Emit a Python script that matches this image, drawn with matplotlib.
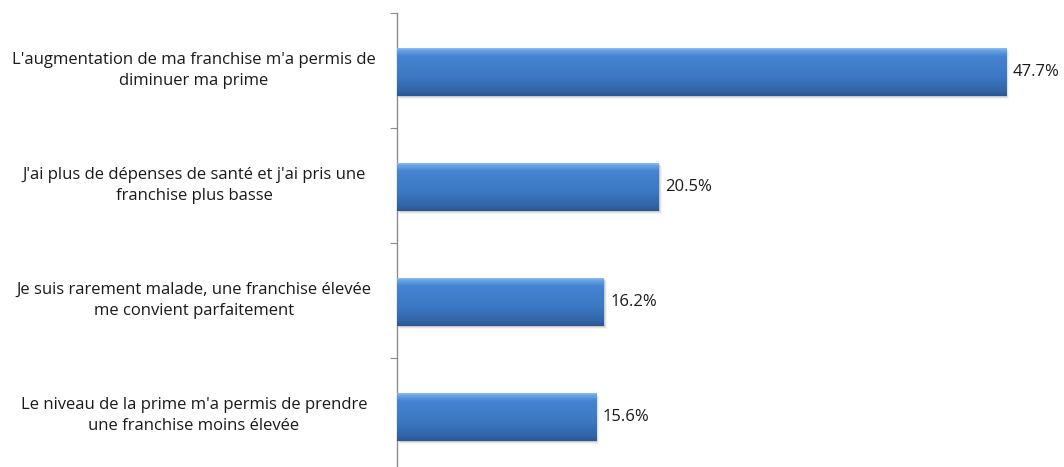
import matplotlib
matplotlib.use("Agg")
import matplotlib.pyplot as plt
import numpy as np
from matplotlib.transforms import blended_transform_factory, offset_copy
from matplotlib.colors import LinearSegmentedColormap

categories = [
    "L'augmentation de ma franchise m'a permis de\ndiminuer ma prime",
    "J'ai plus de dépenses de santé et j'ai pris une\nfranchise plus basse",
    "Je suis rarement malade, une franchise élevée\nme convient parfaitement",
    "Le niveau de la prime m'a permis de prendre\nune franchise moins élevée",
]
values = [47.7, 20.5, 16.2, 15.6]
value_labels = ["47.7%", "20.5%", "16.2%", "15.6%"]

plt.rcParams['font.family'] = ['Open Sans', 'DejaVu Sans']

W, H = 1064, 467
fig = plt.figure(figsize=(W / 100, H / 100), dpi=100)
ax = fig.add_axes([397 / W, (H - 473) / H, 638.5 / W, 460 / H])

n = len(categories)
ypos = np.arange(n)
bar_off = 0.015
ax.set_ylim(n - 0.5, -0.5)
ax.set_xlim(0, 50)

bar_h = 0.42
bars = ax.barh(ypos + bar_off, values, height=bar_h, color="#3C78C4", edgecolor="none", zorder=3)

# soft shadow
for b in bars:
    x0, y0 = b.get_x(), b.get_y()
    w, h = b.get_width(), b.get_height()
    for k, (dx, dy, a) in enumerate([(1, -1, 0.25), (2, -2, 0.15), (3, -3, 0.08)]):
        sh = plt.Rectangle((x0, y0), w, h,
                           transform=offset_copy(ax.transData, fig=fig, x=dx, y=dy, units='dots'),
                           facecolor="#7a7a7a", alpha=a, edgecolor="none", zorder=2)
        ax.add_patch(sh)

# gradient overlay
grad = np.linspace(0, 1, 100).reshape(-1, 1)
cmap = LinearSegmentedColormap.from_list("g", [(0.0, "#9CC6F2"), (0.06, "#6AA5E6"), (0.18, "#4584D2"),
                                               (0.6, "#3C78C3"), (0.9, "#3164A8"), (1.0, "#2B5791")])
for b in bars:
    x0, y0 = b.get_x(), b.get_y()
    w, h = b.get_width(), b.get_height()
    im = ax.imshow(grad, extent=(x0, x0 + w, y0 + h, y0), aspect="auto", cmap=cmap, zorder=4,
                   origin="upper", interpolation="bilinear")
    im.set_clip_path(b)
ax.set_xlim(0, 50)
ax.set_ylim(n - 0.5, -0.5)

# value labels
for yi, v, lab in zip(ypos, values, value_labels):
    ax.annotate(lab, (v, yi + bar_off), xytext=(4.5, 0), textcoords="offset points", va="center", ha="left",
                fontsize=12, color="#1a1a1a", zorder=5)

# category labels
tr = blended_transform_factory(fig.transFigure, ax.transData)
for yi, c in zip(ypos, categories):
    ax.text(194 / W, yi + 0.0, c, transform=tr, ha="center", va="center", multialignment="center",
            fontsize=12, color="#1a1a1a", linespacing=1.45)

for s in ["top", "right", "bottom"]:
    ax.spines[s].set_visible(False)
ax.spines["left"].set_color("#8c8c8c")
ax.spines["left"].set_linewidth(1.0)
ax.set_xticks([])
ax.set_yticks(np.arange(-0.5, n, 1.0))
ax.set_yticklabels([])
ax.tick_params(axis="y", length=5, color="#8c8c8c", direction="out")
ax.set_facecolor("none")

fig.savefig("out.png", dpi=100, facecolor="white")
